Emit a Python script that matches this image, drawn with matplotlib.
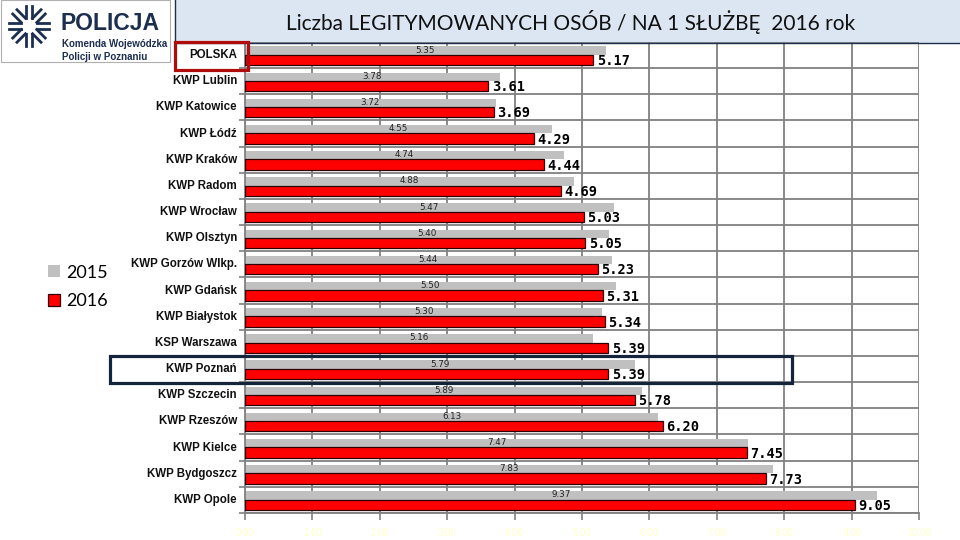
import matplotlib.pyplot as plt
import numpy as np
from matplotlib.patches import Rectangle
from matplotlib.lines import Line2D

plt.rcParams['font.family'] = ['Liberation Sans', 'DejaVu Sans']

units = ['POLSKA', 'KWP Lublin', 'KWP Katowice', 'KWP Łódź', 'KWP Kraków', 'KWP Radom',
         'KWP Wrocław', 'KWP Olsztyn', 'KWP Gorzów Wlkp.', 'KWP Gdańsk', 'KWP Białystok',
         'KSP Warszawa', 'KWP Poznań', 'KWP Szczecin', 'KWP Rzeszów', 'KWP Kielce',
         'KWP Bydgoszcz', 'KWP Opole']
v2015 = [5.35, 3.78, 3.72, 4.55, 4.74, 4.88, 5.47, 5.40, 5.44, 5.50, 5.30, 5.16,
         5.79, 5.89, 6.13, 7.47, 7.83, 9.37]
v2016 = [5.17, 3.61, 3.69, 4.29, 4.44, 4.69, 5.03, 5.05, 5.23, 5.31, 5.34, 5.39,
         5.39, 5.78, 6.20, 7.45, 7.73, 9.05]
xticks = np.arange(0, 11)

W, H = 960, 540
navy = '#1c2f4f'
grid = '#808080'


def fx(x):
    return x / W


def fy(y):
    return 1 - y / H


fig = plt.figure(figsize=(9.6, 5.4), dpi=100)
fig.patch.set_facecolor('white')

# title band
fig.add_artist(Rectangle((fx(175), fy(43)), fx(W - 175), 43 / H, transform=fig.transFigure,
                         facecolor='#dce6f2', edgecolor='none', zorder=0))
fig.add_artist(Line2D([fx(175), 1], [fy(43), fy(43)], transform=fig.transFigure, color=navy, lw=1.0))
fig.add_artist(Line2D([fx(175), fx(175)], [fy(0), fy(43)], transform=fig.transFigure, color=navy, lw=1.0))
fig.text(fx(571), fy(22), 'Liczba LEGITYMOWANYCH OSÓB / NA 1 SŁUŻBĘ  2016 rok',
         ha='center', va='center', fontsize=15, family='Lato', color='#111111')

# logo
fig.add_artist(Rectangle((fx(0.5), fy(62)), fx(169), 62 / H, transform=fig.transFigure,
                         facecolor='white', edgecolor='#b0b0b0', lw=0.8, zorder=1))
fig.text(fx(61), fy(24), 'POLICJA', ha='left', va='center', fontsize=16.5, fontweight='bold',
         color=navy, zorder=3)
fig.text(fx(62), fy(44), 'Komenda Wojewódzka', ha='left', va='center', fontsize=7,
         fontweight='bold', color=navy, zorder=3)
fig.text(fx(62), fy(57), 'Policji w Poznaniu', ha='left', va='center', fontsize=7,
         fontweight='bold', color=navy, zorder=3)
cx, cy = 29, 26
for ang in np.arange(0, 360, 45):
    a = np.deg2rad(ang)
    d = np.array([np.cos(a), np.sin(a)])
    p = np.array([-d[1], d[0]])
    for off in (-3, 3):
        s = np.array([cx, cy]) + d * 8 + p * off
        e = np.array([cx, cy]) + d * 20 + p * off
        fig.add_artist(Line2D([fx(s[0]), fx(e[0])], [fy(s[1]), fy(e[1])],
                              transform=fig.transFigure, color=navy, lw=2.0, zorder=2))

# chart
ax = fig.add_axes([fx(245), fy(513), fx(919 - 245), (513 - 42) / H])
n = len(units)
y = np.arange(n)
b15 = ax.barh(y + 0.33, v2015, height=0.32, color='#c0c0c0', zorder=2, label='2015')
b16 = ax.barh(y + 0.685, v2016, height=0.39, color='#ff0000', edgecolor='#300000',
              lw=0.9, zorder=3, label='2016')

ax.set_xlim(0, 10)
ax.set_ylim(n, 0)
ax.set_xticks(xticks)
ax.set_xticklabels([f'{t:.2f}' for t in xticks], color='#ffffc8', fontsize=7)
ax.set_yticks(np.arange(n + 1))
ax.set_yticklabels([])
ax.tick_params(axis='x', length=5, color=grid, width=1.2, pad=6)
ax.tick_params(axis='y', length=4, color=grid, width=1.2)
ax.set_axisbelow(True)
ax.grid(color=grid, lw=1.3)
for s in ('top', 'right'):
    ax.spines[s].set_visible(False)
for s in ('left', 'bottom'):
    ax.spines[s].set_color(grid)
    ax.spines[s].set_linewidth(1.3)

for i in range(n):
    ax.text(-0.12, i + 0.5, units[i], ha='right', va='center', fontsize=8.3,
            fontweight='bold', color='#111111', clip_on=False)
    ax.text(v2015[i] / 2, i + 0.31, f'{v2015[i]:.2f}', ha='center', va='center',
            fontsize=6.3, family='DejaVu Sans', color='#222222', zorder=4)
    ax.text(v2016[i] + 0.05, i + 0.73, f'{v2016[i]:.2f}', ha='left', va='center',
            fontsize=9.8, fontweight='bold', family='DejaVu Sans Mono', color='black', zorder=4)

ax.legend(handles=[b15, b16], loc='center left', bbox_to_anchor=(fx(48), fy(287)),
          bbox_transform=fig.transFigure, frameon=False, prop={'family': 'Lato', 'size': 13},
          handlelength=0.65, handleheight=0.65, handletextpad=0.35, labelspacing=0.7,
          borderpad=0, borderaxespad=0)

# highlight boxes
fig.add_artist(Rectangle((fx(175), fy(70)), fx(248 - 175), 28 / H, transform=fig.transFigure,
                         facecolor='none', edgecolor='#b00c0c', lw=2.3, zorder=5))
fig.add_artist(Rectangle((fx(110), fy(383)), fx(792 - 110), 27 / H, transform=fig.transFigure,
                         facecolor='none', edgecolor='#14243a', lw=2.3, zorder=5))

fig.savefig('out.png', dpi=100)
